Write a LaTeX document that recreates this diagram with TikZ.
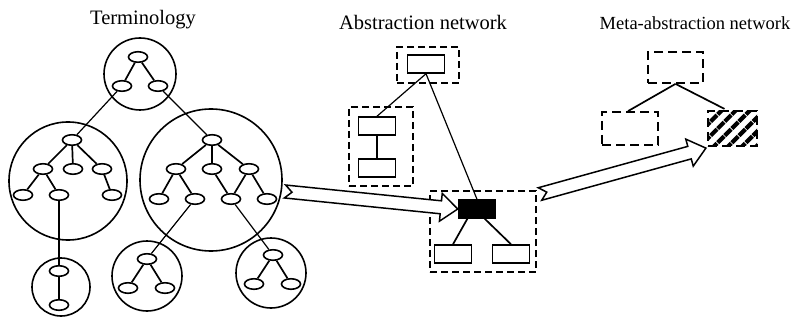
\documentclass[tikz,border=0pt]{standalone}
\usepackage{fontspec}
\setmainfont{Liberation Serif}
\usepackage{tikz}
\usetikzlibrary{calc}
\usetikzlibrary{shapes.geometric,patterns.meta}

\tikzset{
  concept/.style={ellipse, draw, line width=1.6pt, minimum width=19pt, minimum height=10.5pt, inner sep=0pt},
  area/.style={circle, draw, line width=1.6pt, inner sep=0pt, minimum size=#1},
  tree/.style={line width=1.7pt},
  link/.style={line width=1.2pt},
  absbox/.style={draw, dash pattern=on 7pt off 4pt, line width=1.2pt, inner sep=0pt},
  class/.style={draw, line width=1.5pt, minimum width=37pt, minimum height=18pt, inner sep=0pt},
  metabox/.style={draw, dash pattern=on 9pt off 5pt, line width=1.8pt, inner sep=0pt},
  fat arrow/.style={draw, line width=1.5pt, fill=white, line join=miter},
  title/.style={anchor=base, font=\fontsize{20.5}{24}\selectfont}
}

% hollow arrow with a notched tail
\newcommand\fatarrow[2]{%
  \coordinate (fa-b) at ($(#2)!17pt!(#1)$);
  \draw[fat arrow] ($(#1)!6.5pt!90:(#2)$) -- ($(fa-b)!6.5pt!90:(#2)$) -- ($(fa-b)!14pt!90:(#2)$)
    -- (#2) -- ($(fa-b)!14pt!-90:(#2)$) -- ($(fa-b)!6.5pt!-90:(#2)$) -- ($(#1)!6.5pt!-90:(#2)$)
    -- ($(#1)!7pt!(#2)$) -- cycle;
}

\begin{document}
\begin{tikzpicture}[x=1pt, y=-1pt]

\useasboundingbox (0,0) rectangle (794,323);

% Titles
\node[title] (tTerm) at (143,25) {Terminology};
\node[title] (tAbs) at (423,30) {Abstraction network};
\node[title, font=\fontsize{18.5}{22}\selectfont] (tMeta) at (695,30) {Meta-abstraction network};

%==============================================================================================
% Terminology

% top area
\node[area=72pt] (cT) at (140,74) {};
\node[concept] (t0) at (138,57) {};
\node[concept] (t1) at (122,86) {};
\node[concept] (t2) at (158,86) {};
\draw[tree] (t0) -- (t1);
\draw[tree] (t0) -- (t2);

% left area
\node[area=118pt] (cL) at (68,181) {};
\node[concept] (l0) at (72,140) {};
\node[concept] (l1) at (43,169) {};
\node[concept] (l2) at (73,169) {};
\node[concept] (l3) at (102,169) {};
\node[concept] (l4) at (23,195) {};
\node[concept] (l5) at (59,195) {};
\node[concept] (l6) at (112,195) {};
\draw[tree] (l0) -- (l1);
\draw[tree] (l0) -- (l2);
\draw[tree] (l0) -- (l3);
\draw[tree] (l1) -- (l4);
\draw[tree] (l1) -- (l5);
\draw[tree] (l3) -- (l6);

% right area
\node[area=142pt] (cR) at (211,180) {};
\node[concept] (r0) at (212,140) {};
\node[concept] (r1) at (176,169) {};
\node[concept] (r2) at (212,169) {};
\node[concept] (r3) at (249,169) {};
\node[concept] (r4) at (159,199) {};
\node[concept] (r5) at (195,199) {};
\node[concept] (r6) at (231,199) {};
\node[concept] (r7) at (267,199) {};
\draw[tree] (r0) -- (r1);
\draw[tree] (r0) -- (r2);
\draw[tree] (r0) -- (r3);
\draw[tree] (r1) -- (r4);
\draw[tree] (r1) -- (r5);
\draw[tree] (r2) -- (r6);
\draw[tree] (r3) -- (r6);
\draw[tree] (r3) -- (r7);

% bottom areas
\node[area=58pt] (cB1) at (61,287) {};
\node[concept] (b1a) at (59,271) {};
\node[concept] (b1b) at (59,305) {};
\draw[tree] (b1a) -- (b1b);

\node[area=70pt] (cB2) at (147,276) {};
\node[concept] (b2a) at (147,259) {};
\node[concept] (b2b) at (128,288) {};
\node[concept] (b2c) at (165,288) {};
\draw[tree] (b2a) -- (b2b);
\draw[tree] (b2a) -- (b2c);

\node[area=70pt] (cB3) at (271,273) {};
\node[concept] (b3a) at (273,255) {};
\node[concept] (b3b) at (254,284) {};
\node[concept] (b3c) at (291,284) {};
\draw[tree] (b3a) -- (b3b);
\draw[tree] (b3a) -- (b3c);

% links between areas
\draw[link] (t1) -- (l0);
\draw[link] (t2) -- (r0);
\draw[link] (l5) -- (b1a);
\draw[link] (r5) -- (b2a);
\draw[link] (r6) -- (b3a);

%==============================================================================================
% Abstraction network
\node[absbox, minimum width=62pt, minimum height=36pt] (aTop) at (428,65) {};
\node[class] (pTop) at (426,64) {};

\node[absbox, minimum width=64pt, minimum height=79pt] (aLeft) at (381,146.5) {};
\node[class] (pL1) at (377,126) {};
\node[class] (pL2) at (377,168) {};
\draw[link] (pL1) -- (pL2);

\node[absbox, minimum width=106pt, minimum height=81pt] (aRight) at (483,231.5) {};
\node[class, fill=black] (pBlk) at (477,209) {};
\node[class] (pC1) at (453,254) {};
\node[class] (pC2) at (511,254) {};
\draw[link] (pTop.south) -- (pL1.north);
\draw[link] (pTop.south) -- (pBlk.north);
\draw[tree] ($(pBlk.south)!0.5!(pBlk.south west)$) -- (pC1.north);
\draw[tree] ($(pBlk.south)!0.4!(pBlk.south east)$) -- (pC2.north);

%==============================================================================================
% Meta-abstraction network
\node[metabox, minimum width=55pt, minimum height=31pt] (mTop) at (675.5,67.5) {};
\node[metabox, minimum width=56pt, minimum height=33pt] (mLeft) at (630,128.5) {};
\node[metabox, minimum width=49pt, minimum height=35pt,
      pattern={Lines[angle=45, distance=10pt, line width=4.2pt]}] (mHatch) at (732.5,128.5) {};
\draw[tree] (mTop.south) -- ($(mLeft.north)+(-2,0)$);
\draw[tree] (mTop.south) -- ($(mHatch.north)!0.3!(mHatch.north west)$);

%==============================================================================================
% Arrows
\coordinate (arr1) at (285,191.5);
\coordinate (arr2) at (540,194);
\fatarrow{arr1}{pBlk.west}
\fatarrow{arr2}{mHatch.south west}

\end{tikzpicture}
\end{document}
